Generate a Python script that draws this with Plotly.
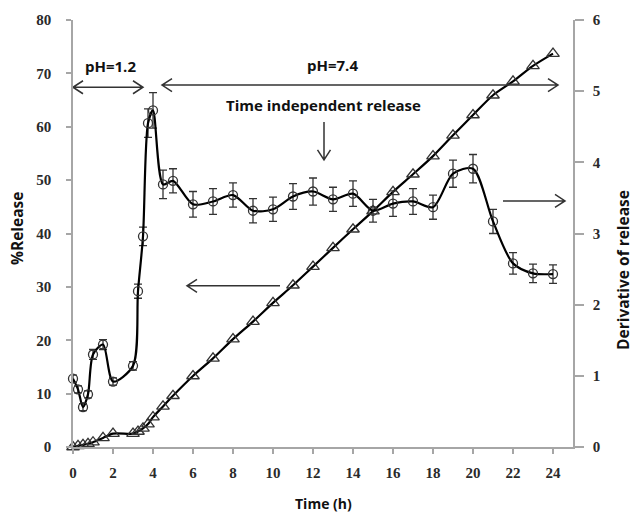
import plotly.graph_objects as go

# Sampling times (h)
time_h = [0, 0.25, 0.5, 0.75, 1, 1.5, 2, 3, 3.25, 3.5, 3.75, 4, 4.5, 5,
          6, 7, 8, 9, 10, 11, 12, 13, 14, 15, 16, 17, 18, 19, 20, 21, 22, 23, 24]

# Cumulative release (%), left axis
pct_release = [0, 0.2, 0.4, 0.6, 0.9, 1.7, 2.5, 2.5, 2.9, 3.5, 4.3, 5.6, 7.6, 9.6,
               13.3, 16.6, 20.2, 23.5, 27.0, 30.3, 33.8, 37.3, 40.8, 44.2, 47.8,
               51.1, 54.5, 58.4, 62.2, 65.9, 68.5, 71.4, 73.7]

# Derivative of release, right axis, with standard deviations
deriv_release = [0.96, 0.81, 0.56, 0.74, 1.30, 1.44, 0.92, 1.14, 2.19, 2.96, 4.55, 4.73,
                 3.69, 3.74, 3.41, 3.45, 3.54, 3.32, 3.34, 3.52, 3.59, 3.48, 3.56, 3.32,
                 3.42, 3.45, 3.37, 3.84, 3.91, 3.17, 2.58, 2.44, 2.43]
deriv_sd = [0.05, 0.05, 0.05, 0.05, 0.07, 0.07, 0.05, 0.06, 0.10, 0.13, 0.20, 0.25,
            0.20, 0.17, 0.18, 0.18, 0.17, 0.17, 0.17, 0.18, 0.19, 0.17, 0.18, 0.16,
            0.18, 0.18, 0.17, 0.19, 0.20, 0.17, 0.15, 0.13, 0.13]

x_ticks = list(range(0, 25, 2))
left_ticks = list(range(0, 81, 10))
right_ticks = list(range(0, 7))

X_MAX, Y_MAX = 25, 80
W, H = 635, 515
M_L, M_R, M_T, M_B = 73, 62, 20, 68
PLOT_W = W - M_L - M_R
PLOT_H = H - M_T - M_B
SX = PLOT_W / X_MAX      # px per hour
SY = PLOT_H / Y_MAX      # px per % unit

TXT = "#111111"
TICK_TXT = "#2a2a2a"
AX = "#a6a6a6"

fig = go.Figure()

fig.add_trace(go.Scatter(
    x=time_h, y=pct_release, mode="lines+markers", name="%Release",
    line=dict(color="black", width=2.2, shape="spline", smoothing=0.8),
    marker=dict(symbol="triangle-up-open", size=11, color="#333333",
                line=dict(width=1.3)),
    cliponaxis=False, yaxis="y",
))

fig.add_trace(go.Scatter(
    x=time_h, y=deriv_release, mode="lines+markers", name="Derivative",
    line=dict(color="black", width=2.2, shape="spline", smoothing=0.8),
    marker=dict(symbol="circle-open", size=9, color="#333333", line=dict(width=1.3)),
    error_y=dict(type="data", array=deriv_sd, visible=True, color="#333333",
                 thickness=1.3, width=4),
    cliponaxis=False, yaxis="y2",
))


def arrow_path(x0, y0, x1, y1, both=False, head=10, half=6.5):
    """Straight line with open chevron head(s), built in pixel space then
    converted back to data units of the primary axes."""
    px0, py0, px1, py1 = x0 * SX, y0 * SY, x1 * SX, y1 * SY
    dx, dy = px1 - px0, py1 - py0
    L = (dx ** 2 + dy ** 2) ** 0.5
    ux, uy = dx / L, dy / L
    nx, ny = -uy, ux

    def d(px, py):
        return f"{px / SX:.4f},{py / SY:.4f}"

    p = f"M{d(px0, py0)} L{d(px1, py1)} "
    p += (f"M{d(px1 - ux * head + nx * half, py1 - uy * head + ny * half)} "
          f"L{d(px1, py1)} "
          f"L{d(px1 - ux * head - nx * half, py1 - uy * head - ny * half)} ")
    if both:
        p += (f"M{d(px0 + ux * head + nx * half, py0 + uy * head + ny * half)} "
              f"L{d(px0, py0)} "
              f"L{d(px0 + ux * head - nx * half, py0 + uy * head - ny * half)} ")
    return p


arrows = [
    (0.0, 67.4, 3.5, 67.4, True),       # pH 1.2 span
    (4.45, 67.8, 24.25, 67.8, True),    # pH 7.4 span
    (12.55, 60.9, 12.55, 53.8, False),  # points at plateau
    (10.35, 30.2, 5.7, 30.2, False),    # curve -> left axis
    (21.5, 46.1, 24.6, 46.1, False),    # curve -> right axis
]
for x0, y0, x1, y1, both in arrows:
    fig.add_shape(type="path", path=arrow_path(x0, y0, x1, y1, both),
                  xref="x", yref="y", line=dict(color="#333333", width=1.5),
                  layer="above")

label_font = dict(family="Open Sans", size=15, color=TXT, weight="bold")
texts = [
    (1.85, 71.3, "pH=1.2"),
    (12.95, 71.6, "pH=7.4"),
    (12.5, 64.1, "Time independent release"),
]
for x, y, t in texts:
    fig.add_annotation(x=x, y=y, xref="x", yref="y", text=t, showarrow=False,
                       font=label_font)

fig.add_annotation(x=(17 - M_L) / PLOT_W, y=(447 - 229) / PLOT_H,
                   xref="paper", yref="paper", xanchor="center", yanchor="middle",
                   text="%Release", textangle=-90, showarrow=False,
                   font=dict(family="Open Sans", size=15.5, color=TXT, weight="bold"))
fig.add_annotation(x=0.5, y=-57 / PLOT_H, xref="paper", yref="paper",
                   xanchor="center", yanchor="middle",
                   text="Time (h)", showarrow=False,
                   font=dict(family="Open Sans", size=14, color=TXT, weight="bold"))
fig.add_annotation(x=(623 - M_L) / PLOT_W, y=(447 - 270) / PLOT_H,
                   xref="paper", yref="paper", xanchor="center", yanchor="middle",
                   text="Derivative of release", textangle=-90, showarrow=False,
                   font=dict(family="Open Sans", size=15.5, color=TXT, weight="bold"))

tick_font = dict(family="Liberation Serif", size=15, color=TICK_TXT, weight="bold")

fig.update_layout(
    width=W, height=H,
    margin=dict(l=M_L, r=M_R, t=M_T, b=M_B),
    paper_bgcolor="white", plot_bgcolor="white",
    showlegend=False,
    xaxis=dict(range=[0, X_MAX], tickvals=x_ticks, showgrid=False, zeroline=False,
               showline=True, linecolor=AX, linewidth=1.5,
               ticks="outside", ticklen=5, tickcolor=AX, tickwidth=1.5,
               tickfont=tick_font, ticklabelstandoff=6),
    yaxis=dict(range=[0, Y_MAX], tickvals=left_ticks, showgrid=False, zeroline=False,
               showline=True, linecolor=AX, linewidth=1.5,
               ticks="outside", ticklen=5, tickcolor=AX, tickwidth=1.5,
               tickfont=tick_font, ticklabelstandoff=12),
    yaxis2=dict(range=[0, 6], tickvals=right_ticks, overlaying="y", side="right",
                showgrid=False, zeroline=False, showline=True, linecolor=AX,
                linewidth=1.5, ticks="outside", ticklen=9, tickcolor=AX,
                tickwidth=1.5, tickfont=tick_font, ticklabelstandoff=6),
)

fig.write_html("out.html")
